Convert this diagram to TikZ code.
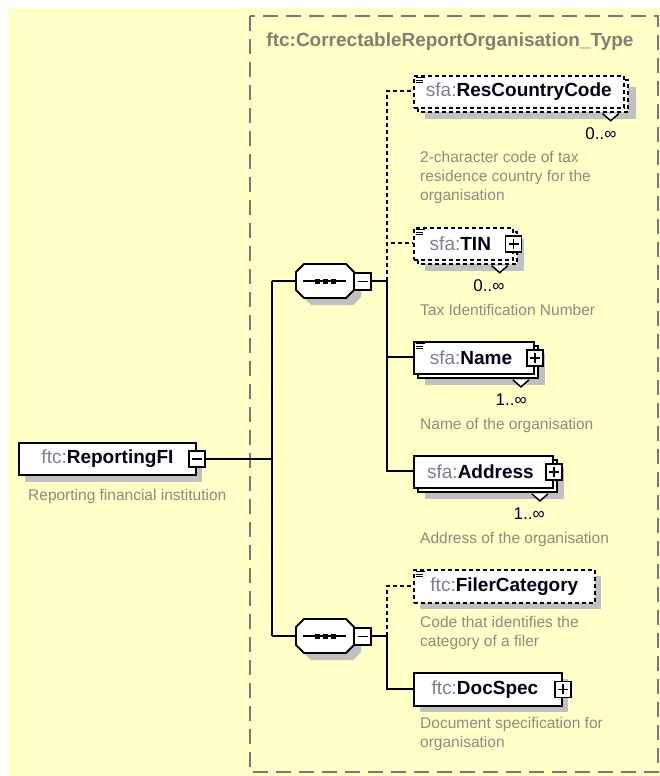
\documentclass[tikz,border=0pt]{standalone}
\usepackage{fontspec}
\setmainfont{Liberation Sans}
\usetikzlibrary{calc}
\definecolor{bgy}{RGB}{255,255,200}
\definecolor{shd}{RGB}{192,192,192}
\definecolor{pfx}{RGB}{125,125,140}
\definecolor{nmc}{RGB}{0,0,25}
\definecolor{dsc}{RGB}{140,140,128}
\definecolor{ttl}{RGB}{128,128,112}
\definecolor{frm}{RGB}{120,120,120}
\newcommand\qn[2]{{\color{pfx}#1}{\bfseries\color{nmc}#2}}
\newcommand\docicon[1]{\draw[line width=1pt] ($(#1.north west)+(2.5,2.5)$) -- ++(9,0) ($(#1.north west)+(2.5,5)$) -- ++(7,0) ($(#1.north west)+(2.5,7.5)$) -- ++(7,0);}
\newcommand\vmark[1]{\draw[line width=1.5pt, fill=white] ($(#1.south east)+(-22,5)$) -- ++(8,7) -- ++(8,-7);}
\newcommand\octpath[2]{(#1-21,#2-17) -- (#1+21,#2-17) -- (#1+29,#2-9) -- (#1+29,#2+9) -- (#1+21,#2+17) -- (#1-21,#2+17) -- (#1-29,#2+9) -- (#1-29,#2-9) -- cycle}
\tikzset{
 conn/.style={line width=2pt, draw=black},
 optconn/.style={line width=1.8pt, draw=black, dash pattern=on 4pt off 3pt},
 elem/.style={draw=black, line width=1.9pt, fill=white, rectangle, inner sep=0pt, minimum height=32pt, anchor=north west, font=\fontsize{19}{22}\selectfont},
 optelem/.style={elem, line width=1.7pt, dash pattern=on 4pt off 3pt},
 backbox/.style={draw=black, line width=1.9pt, fill=white},
 optbackbox/.style={backbox, line width=1.7pt, dash pattern=on 4pt off 3pt},
 btn/.style={draw=black, line width=1.5pt, fill=white, rectangle, minimum size=16pt, inner sep=0pt},
 plusbtn/.style={btn, path picture={\draw[line width=1.5pt] ([xshift=-5pt]path picture bounding box.center) -- ([xshift=5pt]path picture bounding box.center) ([yshift=-5pt]path picture bounding box.center) -- ([yshift=5pt]path picture bounding box.center);}},
 minusbtn/.style={btn, path picture={\draw[line width=1.5pt] ([xshift=-5pt]path picture bounding box.center) -- ([xshift=5pt]path picture bounding box.center);}},
 seqnode/.style={rectangle, minimum width=58pt, minimum height=34pt, inner sep=0pt},
 seqline/.style={line width=1.9pt},
 desc/.style={anchor=west, inner sep=0pt, align=left, text=dsc, font=\fontsize{15.5}{19}\selectfont},
 mult/.style={anchor=east, inner sep=0pt, text=nmc, font=\fontsize{17}{19}\selectfont},
 ttlstyle/.style={inner sep=0pt, text=ttl, font=\fontsize{19}{22}\selectfont\bfseries},
}
\begin{document}
\begin{tikzpicture}[x=1pt,y=-1pt]
\useasboundingbox (0,0) rectangle (660,776);
\fill[white] (0,0) rectangle (660,776);
\fill[bgy] (8,8) rectangle (660,776);
\draw[frm, line width=1.5pt, dash pattern=on 15pt off 8pt] (250,16) rectangle (658,772);
\node[ttlstyle] (title) at (450,42) {ftc:CorrectableReportOrganisation\_Type};

% named points of the connector tree
\coordinate (tA) at (272,281);
\coordinate (tB) at (272,636);
\coordinate (v1) at (387,281);
\coordinate (v2) at (387,636);

% invisible anchors for sequences
\node[seqnode] (seq1) at (325,281) {};
\node[seqnode] (seq2) at (325,636) {};

% --- ReportingFI
\fill[shd] (25,450) rectangle (202,482);
\node[elem, minimum width=177pt] (rfi) at (18,442) {\qn{ftc:}{ReportingFI}};
\node[minusbtn] (rfibtn) at (rfi.east) {};
\node[desc] (rfid) at (28,496) {Reporting financial institution};

% connectors of the trunk
\draw[conn] (rfibtn.east) -- (rfibtn.east -| tA);
\draw[conn] (tA) -- (tB);
\draw[conn] (tA) -- (seq1.west);
\draw[conn] (tB) -- (seq2.west);
\draw[conn] (seq1.east) -- (v1);
\draw[conn] (seq2.east) -- (v2);

% --- sequence 1
\fill[shd] \octpath{332}{288};
\draw[seqline, fill=white] \octpath{325}{281};
\draw[seqline] ($(seq1.center)+(-22,0)$) -- ($(seq1.center)+(21,0)$);
\foreach \dx in {-8,0,8} \fill ($(seq1.center)+(\dx,0)$) +(-2.5,-2.5) rectangle +(2.5,2.5);
\node[minusbtn, minimum size=17pt] (s1btn) at (362.5,281.5) {};

% --- sequence 2
\fill[shd] \octpath{332}{643};
\draw[seqline, fill=white] \octpath{325}{636};
\draw[seqline] ($(seq2.center)+(-22,0)$) -- ($(seq2.center)+(21,0)$);
\foreach \dx in {-8,0,8} \fill ($(seq2.center)+(\dx,0)$) +(-2.5,-2.5) rectangle +(2.5,2.5);
\node[minusbtn, minimum size=17pt] (s2btn) at (362.5,636.5) {};

% --- ResCountryCode
\node[inner sep=0pt, minimum width=210pt, minimum height=32pt, anchor=north west] (rccpos) at (413,75) {};
\draw[optconn] (v1) |- (rccpos.west);
\fill[shd] (425,87) rectangle (636,119);
\draw[optbackbox] (418,80) rectangle (628,112);
\node[optelem, minimum width=210pt] (rcc) at (413,75) {\qn{sfa:}{ResCountryCode}};
\docicon{rcc}
\vmark{rcc}
\node[mult] (rccm) at ($(rcc.south east)+(-8,25)$) {0..∞};
\node[desc] (rccd) at (420,177) {2-character code of tax\\residence country for the\\organisation};

% --- TIN
\node[inner sep=0pt, minimum width=99pt, minimum height=32pt, anchor=north west] (tinpos) at (413,227) {};
\draw[optconn] (v1) |- (tinpos.west);
\fill[shd] (425,239) rectangle (524,271);
\draw[optbackbox] (418,232) rectangle (517,264);
\node[optelem, minimum width=99pt] (tin) at (413,227) {\qn{sfa:}{TIN}\hspace*{6pt}};
\docicon{tin}
\vmark{tin}
\node[plusbtn] (tinbtn) at (tin.east) {};
\node[mult] (tinm) at ($(tin.south east)+(-9,25)$) {0..∞};
\node[desc] (tind) at (420,310) {Tax Identification Number};

% --- Name
\node[inner sep=0pt, minimum width=120pt, minimum height=32pt, anchor=north west] (namepos) at (413,341) {};
\draw[conn] (v1) |- (namepos.west);
\fill[shd] (425,353) rectangle (545,385);
\draw[backbox] (418,346) rectangle (538,378);
\node[elem, minimum width=120pt] (name) at (413,341) {\qn{sfa:}{Name}\hspace*{6pt}};
\docicon{name}
\vmark{name}
\node[plusbtn] (namebtn) at (name.east) {};
\node[mult] (namem) at ($(name.south east)+(-8,25)$) {1..∞};
\node[desc] (named) at (420,425) {Name of the organisation};

% --- Address
\node[inner sep=0pt, minimum width=139pt, minimum height=32pt, anchor=north west] (addrpos) at (413,455) {};
\draw[conn] (v1) |- (addrpos.west);
\fill[shd] (425,467) rectangle (564,499);
\draw[backbox] (418,460) rectangle (557,492);
\node[elem, minimum width=139pt] (addr) at (413,455) {\qn{sfa:}{Address}\hspace*{6pt}};
\vmark{addr}
\node[plusbtn] (addrbtn) at (addr.east) {};
\node[mult] (addrm) at ($(addr.south east)+(-9,25)$) {1..∞};
\node[desc] (addrd) at (420,539) {Address of the organisation};

% --- FilerCategory
\node[inner sep=0pt, minimum width=181pt, minimum height=33pt, anchor=north west] (filpos) at (413,569) {};
\draw[optconn] (v2) |- (filpos.west);
\fill[shd] (420,576) rectangle (601,609);
\node[optelem, minimum width=181pt, minimum height=33pt] (fil) at (413,569) {\qn{ftc:}{FilerCategory}};
\docicon{fil}
\node[desc] (fild) at (420,632.5) {Code that identifies the\\category of a filer};

% --- DocSpec
\node[inner sep=0pt, minimum width=148pt, minimum height=33pt, anchor=north west] (docpos) at (413,672) {};
\draw[conn] (v2) |- (docpos.west);
\fill[shd] (420,679) rectangle (568,712);
\node[elem, minimum width=148pt, minimum height=33pt] (doc) at (413,672) {\qn{ftc:}{DocSpec}\hspace*{6pt}};
\node[plusbtn] (docbtn) at (doc.east) {};
\node[desc] (docd) at (420,734) {Document specification for\\organisation};
\end{tikzpicture}
\end{document}
